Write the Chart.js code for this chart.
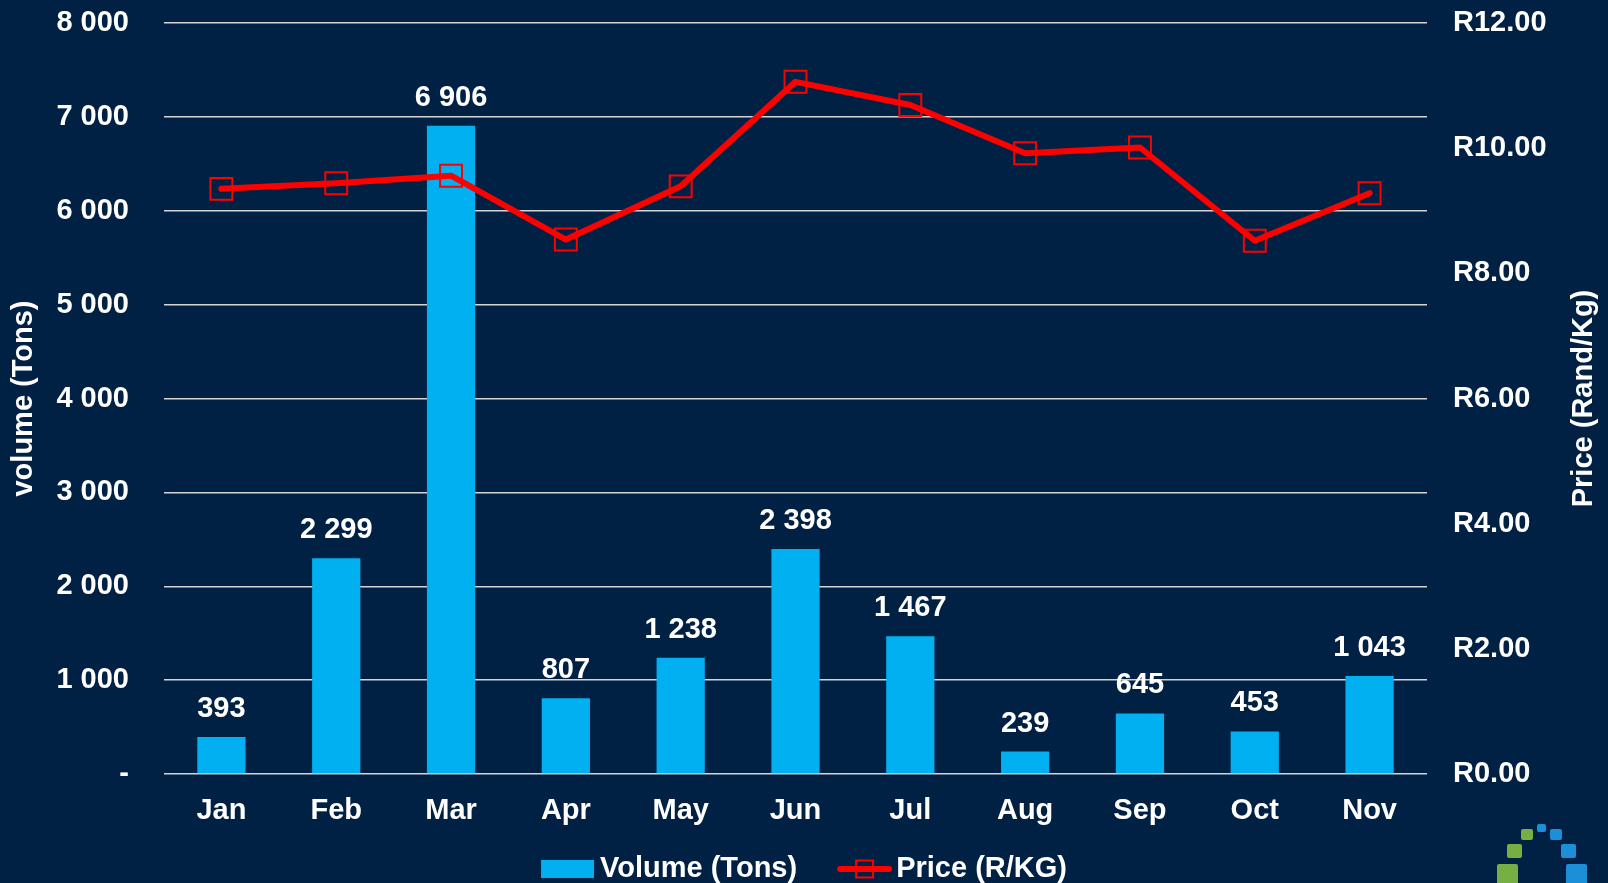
<!DOCTYPE html>
<html>
<head>
<meta charset="utf-8">
<script src="https://cdn.jsdelivr.net/npm/chart.js@4.4.1/dist/chart.umd.min.js"></script>
<style>
  html, body { margin: 0; padding: 0; background: #002143; overflow: hidden; }
  #wrap { position: relative; width: 1608px; height: 883px; }
  canvas { display: block; }
  .sq { position: absolute; border-radius: 2px; }
  .g { background: #76b043; }
  .b { background: #1b8fd8; }
</style>
</head>
<body>
<div id="wrap">
  <canvas id="chart" width="1608" height="883"></canvas>
  <!-- little logo, bottom right -->
  <div class="sq b" style="left:1537px;top:824px;width:9px;height:8px"></div>
  <div class="sq g" style="left:1521px;top:829px;width:12px;height:11px"></div>
  <div class="sq b" style="left:1550px;top:829px;width:12px;height:11px"></div>
  <div class="sq g" style="left:1507px;top:844px;width:15px;height:14px"></div>
  <div class="sq b" style="left:1561px;top:844px;width:15px;height:14px"></div>
  <div class="sq g" style="left:1497px;top:864px;width:21px;height:22px"></div>
  <div class="sq b" style="left:1566px;top:864px;width:21px;height:22px"></div>
</div>
<script>
const months = ['Jan', 'Feb', 'Mar', 'Apr', 'May', 'Jun', 'Jul', 'Aug', 'Sep', 'Oct', 'Nov'];
const volumeTons = [393, 2299, 6906, 807, 1238, 2398, 1467, 239, 645, 453, 1043];
const priceRandKg = [9.35, 9.44, 9.56, 8.54, 9.39, 11.06, 10.69, 9.92, 10.01, 8.52, 9.28];
const volumeTickLabels = ['-', '1 000', '2 000', '3 000', '4 000', '5 000', '6 000', '7 000', '8 000'];
const priceTickLabels = ['R0.00', 'R2.00', 'R4.00', 'R6.00', 'R8.00', 'R10.00', 'R12.00'];

const FONT = '"Liberation Sans", Arial, sans-serif';
const WHITE = '#ffffff';
const BAR_BLUE = '#00b0f0';
const RED = '#ff0000';

function spaced(n) {
  return String(n).replace(/\B(?=(\d{3})+(?!\d))/g, ' ');
}

// value labels above the bars
const barValueLabels = {
  id: 'barValueLabels',
  afterDatasetsDraw(chart) {
    const meta = chart.getDatasetMeta(1);
    const ctx = chart.ctx;
    ctx.save();
    ctx.font = 'bold 29px ' + FONT;
    ctx.fillStyle = WHITE;
    ctx.textAlign = 'center';
    ctx.textBaseline = 'middle';
    meta.data.forEach((bar, i) => {
      ctx.fillText(spaced(volumeTons[i]), bar.x, bar.y - 28);
    });
    ctx.restore();
  }
};

// right axis title reads bottom-to-top, and the legend is drawn by hand
const extras = {
  id: 'extras',
  afterDraw(chart) {
    const ctx = chart.ctx;
    const area = chart.chartArea;
    const ds = chart.data.datasets;
    ctx.save();
    ctx.font = 'bold 29px ' + FONT;
    ctx.fillStyle = WHITE;
    ctx.textBaseline = 'middle';

    ctx.save();
    ctx.translate(chart.scales.price.right - 24, (area.top + area.bottom) / 2);
    ctx.rotate(-Math.PI / 2);
    ctx.textAlign = 'center';
    ctx.fillText('Price (Rand/Kg)', 0, 0);
    ctx.restore();

    // legend
    const barDs = ds[1], lineDs = ds[0];
    const w1 = ctx.measureText(barDs.label).width;
    const w2 = ctx.measureText(lineDs.label).width;
    const total = 53 + 6 + w1 + 40 + 55 + 4 + w2;
    let x = (chart.width - total) / 2;
    const y = 869;
    ctx.textAlign = 'left';
    ctx.fillStyle = BAR_BLUE;
    ctx.fillRect(x, y - 9, 53, 18);
    x += 59;
    ctx.fillStyle = WHITE;
    ctx.fillText(barDs.label, x, y);
    x += w1 + 40;
    ctx.strokeStyle = RED;
    ctx.lineWidth = 6;
    ctx.lineCap = 'round';
    ctx.beginPath();
    ctx.moveTo(x + 3, y);
    ctx.lineTo(x + 52, y);
    ctx.stroke();
    ctx.lineWidth = 2;
    ctx.strokeRect(x + 19, y - 8.5, 17, 17);
    x += 59;
    ctx.fillText(lineDs.label, x, y);
    ctx.restore();
  }
};

// fixed axis widths; drop the extra top/bottom room chart.js reserves for labels
function fixVertical(width) {
  return function (scale) {
    scale.width = width;
    scale.paddingTop = 0;
    scale.paddingBottom = 0;
  };
}

new Chart(document.getElementById('chart'), {
  data: {
    labels: months,
    datasets: [
      {
        type: 'line',
        label: 'Price (R/KG)',
        data: priceRandKg,
        yAxisID: 'price',
        order: 0,
        borderColor: RED,
        borderWidth: 6,
        borderCapStyle: 'round',
        borderJoinStyle: 'round',
        tension: 0,
        pointStyle: 'rect',
        pointRadius: 15.5,
        pointBorderWidth: 2,
        pointBorderColor: RED,
        pointBackgroundColor: 'rgba(0,0,0,0)'
      },
      {
        type: 'bar',
        label: 'Volume (Tons)',
        data: volumeTons,
        yAxisID: 'volume',
        order: 1,
        backgroundColor: BAR_BLUE,
        barPercentage: 0.42,
        categoryPercentage: 1
      }
    ]
  },
  options: {
    responsive: false,
    animation: false,
    layout: { padding: { top: 23, bottom: 0, left: 0, right: 0 } },
    plugins: {
      legend: { display: false },
      tooltip: { enabled: false }
    },
    scales: {
      x: {
        grid: { display: false },
        border: { display: false },
        ticks: { color: WHITE, font: { family: FONT, size: 29, weight: 'bold' }, padding: 12 },
        afterFit(scale) { scale.height = 109; }
      },
      volume: {
        position: 'left',
        min: 0,
        max: 8000,
        grid: { color: '#d4d4d4', lineWidth: 1.5, drawTicks: false },
        border: { display: false },
        ticks: {
          stepSize: 1000,
          color: WHITE,
          padding: 35,
          font: { family: FONT, size: 29, weight: 'bold' },
          callback: (v, i) => volumeTickLabels[i]
        },
        title: {
          display: true,
          text: 'volume (Tons)',
          color: WHITE,
          font: { family: FONT, size: 29, weight: 'bold' },
          padding: { top: 7, bottom: 0 }
        },
        afterFit: fixVertical(164)
      },
      price: {
        position: 'right',
        min: 0,
        max: 12,
        grid: { display: false, drawTicks: false },
        border: { display: false },
        ticks: {
          stepSize: 2,
          color: WHITE,
          padding: 26,
          font: { family: FONT, size: 29, weight: 'bold' },
          callback: (v, i) => priceTickLabels[i]
        },
        afterFit: fixVertical(181)
      }
    }
  },
  plugins: [barValueLabels, extras]
});
</script>
</body>
</html>
